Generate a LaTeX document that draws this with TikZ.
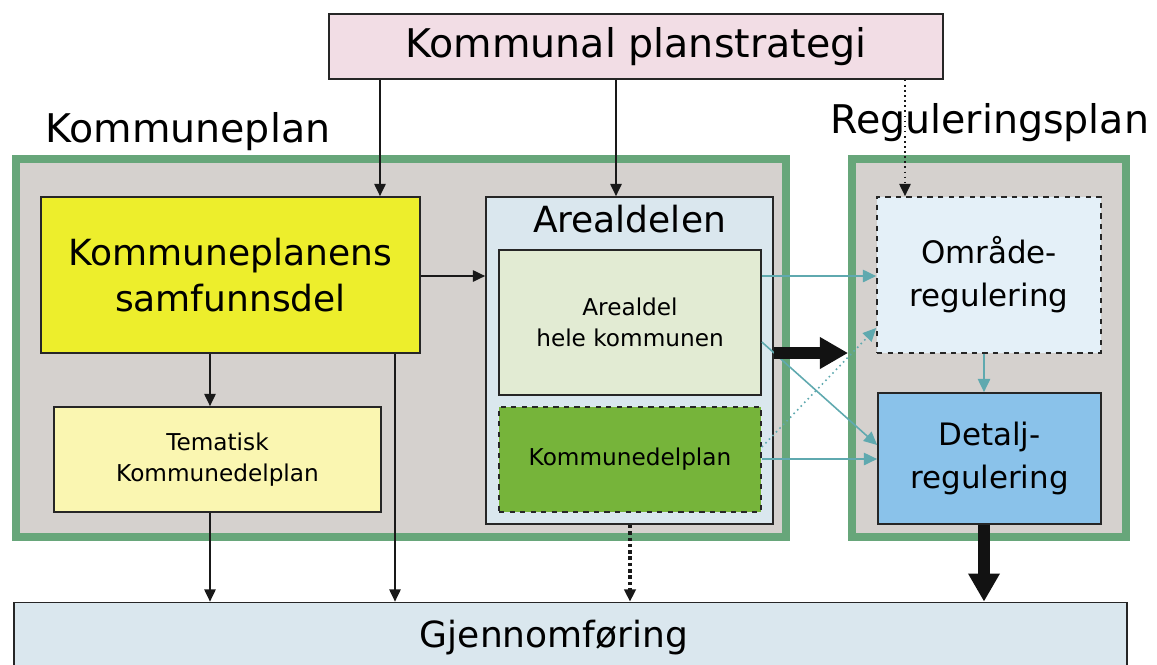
\documentclass[tikz,border=0pt]{standalone}
\usepackage{fontspec}
\setmainfont{DejaVu Sans}
\usetikzlibrary{arrows.meta,calc}

\definecolor{planpink}{RGB}{242,221,229}
\definecolor{framegray}{RGB}{213,209,206}
\definecolor{framegreen}{RGB}{103,166,122}
\definecolor{samfyellow}{RGB}{237,238,44}
\definecolor{temayellow}{RGB}{250,246,177}
\definecolor{arealblue}{RGB}{218,231,238}
\definecolor{helegreen}{RGB}{226,235,211}
\definecolor{kdpgreen}{RGB}{118,180,58}
\definecolor{omrblue}{RGB}{228,240,248}
\definecolor{detaljblue}{RGB}{138,194,234}
\definecolor{tealarrow}{RGB}{95,169,175}

\tikzset{
  box/.style={draw=black!85, line width=1pt, inner sep=0pt, align=center},
  frame/.style={draw=framegreen, line width=4.5pt, fill=framegray, inner sep=0pt},
  hugetxt/.style={font=\fontsize{22.5}{27}\selectfont},
  bigtxt/.style={font=\fontsize{20.5}{26.5}\selectfont},
  midtxt/.style={font=\fontsize{17.6}{24.5}\selectfont},
  smalltxt/.style={font=\fontsize{13.2}{17.5}\selectfont},
  arr/.style={-{Triangle[length=7pt,width=6.5pt]}, line width=0.9pt, black!90},
  tarr/.style={-{Triangle[length=7.5pt,width=7pt]}, line width=0.9pt, tealarrow},
  fatarr/.style={-{Triangle[length=16pt,width=17pt]}, line width=6.5pt, black!93},
}

\begin{document}
\begin{tikzpicture}[x=0.02cm, y=-0.02cm]
    \useasboundingbox (0,0) rectangle (1157,664);
    \clip (0,0) rectangle (1157,664);

    % the two green frames
    \node (kframe) [frame, minimum width=15.4cm, minimum height=7.56cm] at (401,348) {};
    \node (rframe) [frame, minimum width=5.48cm, minimum height=7.56cm] at (989,348) {};

    % titles
    \node (plan) [box, fill=planpink, hugetxt, minimum width=12.28cm, minimum height=1.3cm] at (636,46.5) {Kommunal planstrategi};
    \node (kplanlbl) [hugetxt, anchor=base west, inner sep=0pt] at (45,142) {Kommuneplan};
    \node (rplanlbl) [hugetxt, anchor=base west, inner sep=0pt] at (830,133) {Reguleringsplan};

    % kommuneplan parts
    \node (samf) [box, fill=samfyellow, bigtxt, minimum width=7.58cm, minimum height=3.12cm] at (230.5,275) {Kommuneplanens\\samfunnsdel};
    \node (tema) [box, fill=temayellow, smalltxt, minimum width=6.54cm, minimum height=2.1cm] at (217.5,459.5) {Tematisk\\Kommunedelplan};
    \node (areal) [box, fill=arealblue, minimum width=5.74cm, minimum height=6.54cm] at (629.5,360.5) {};
    \node (arealtitle) [bigtxt, anchor=north, inner sep=5pt] at (areal.north) {Arealdelen};
    \node (hele) [box, fill=helegreen, smalltxt, minimum width=5.24cm, minimum height=2.9cm] at (630,322.5) {Arealdel\\hele kommunen};
    \node (kdp) [box, dashed, fill=kdpgreen, smalltxt, minimum width=5.24cm, minimum height=2.1cm] at (630,459.5) {Kommunedelplan};

    % reguleringsplan parts
    \node (omr) [box, dashed, fill=omrblue, midtxt, minimum width=4.48cm, minimum height=3.12cm] at (989,275) {Område-\\regulering};
    \node (detalj) [box, fill=detaljblue, midtxt, minimum width=4.46cm, minimum height=2.62cm] at (989.5,458.5) {Detalj-\\regulering};

    % gjennomfoering
    \node (gjen) [box, fill=arealblue, minimum width=22.26cm, minimum height=1.5cm] at (570.5,640) {};
    \node (gjentxt) [bigtxt, inner sep=0pt] at (554,638) {Gjennomføring};

    % columns and rows for the connectors
    \coordinate (xa) at (380,0);
    \coordinate (xb) at (616,0);
    \coordinate (xc) at (905,0);
    \coordinate (xd) at (210,0);
    \coordinate (xe) at (395,0);
    \coordinate (xf) at (630,0);
    \coordinate (xg) at (984,0);
    \coordinate (ya) at (0,276);
    \coordinate (yb) at (0,353);
    \coordinate (yc) at (0,342);
    \coordinate (yd) at (0,445);
    \coordinate (ye) at (0,447);
    \coordinate (yf) at (0,328);
    \coordinate (yg) at (0,459);

    % from the plan strategy
    \draw[arr] (plan.south -| xa) -- (samf.north -| xa);
    \draw[arr] (plan.south -| xb) -- (areal.north -| xb);
    \draw[arr, dotted] (plan.south -| xc) -- (omr.north -| xc);

    % inside kommuneplan
    \draw[arr] (samf.east |- ya) -- (areal.west |- ya);
    \draw[arr] (samf.south -| xd) -- (tema.north -| xd);

    % down to gjennomfoering
    \draw[arr] (tema.south -| xd) -- (gjen.north -| xd);
    \draw[arr] (samf.south -| xe) -- (gjen.north -| xe);
    \draw[arr, line width=2pt, dash pattern=on 2pt off 1.6pt] (areal.south -| xf) -- (gjen.north -| xf);

    % arealdel to regulering
    \draw[tarr] (hele.east |- ya) -- (omr.west |- ya);
    \draw[tarr] (hele.east |- yc) -- (detalj.west |- yd);
    \draw[tarr, dotted] (kdp.east |- ye) -- (omr.west |- yf);
    \draw[tarr] (kdp.east |- yg) -- (detalj.west |- yg);
    \draw[tarr] (omr.south -| xg) -- (detalj.north -| xg);

    % the thick arrows
    \draw[fatarr] (areal.east |- yb) -- (rframe.west |- yb);
    \draw[fatarr] (detalj.south -| xg) -- (gjen.north -| xg);
\end{tikzpicture}
\end{document}
